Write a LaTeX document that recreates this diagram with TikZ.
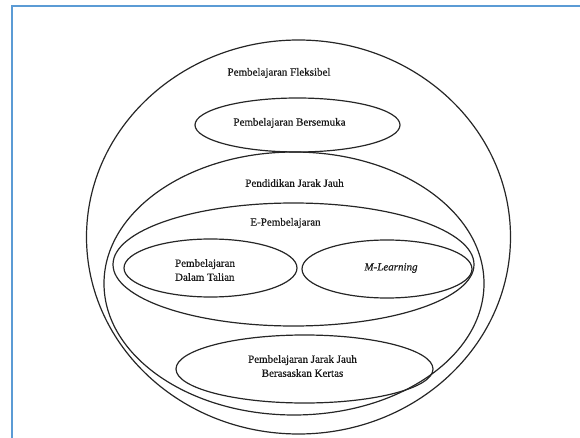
\documentclass[tikz,border=0pt]{standalone}
\usepackage{fontspec}
\setmainfont{Liberation Serif}
\newfontface\labelface{Liberation Serif}[FakeBold=0.5]
\newfontface\labelit{Liberation Serif Italic}[FakeBold=0.5]
\begin{document}
\begin{tikzpicture}[x=1pt,y=-1pt,
  ring/.style={draw=black!85,line width=1.2pt},
  lbl/.style={font=\fontsize{11}{14}\labelface,text=black!90,inner sep=0pt,align=center},
  frame/.style={draw={rgb,255:red,91;green,155;blue,213},line width=2pt}]
\useasboundingbox (0,0) rectangle (580,438);
% blue frame (top and left sides)
\draw[frame] (11.5,438) -- (11.5,6.5) -- (580,6.5);
% nested sets
\draw[ring] (298.5,237) ellipse [x radius=212pt, y radius=197pt];
\draw[ring] (297.5,125) ellipse [x radius=102.5pt, y radius=27pt];
\draw[ring] (294,283.5) ellipse [x radius=190pt, y radius=131.5pt];
\draw[ring] (293.5,264.5) ellipse [x radius=180.5pt, y radius=61.5pt];
\draw[ring] (210.5,268) ellipse [x radius=86.5pt, y radius=29pt];
\draw[ring] (387,269) ellipse [x radius=85pt, y radius=29pt];
\draw[ring] (304.5,369) ellipse [x radius=128.5pt, y radius=34pt];
% labels
\node[lbl] (fleks) at (279,73) {Pembelajaran Fleksibel};
\node[lbl] (semuka) at (289.5,123) {Pembelajaran Bersemuka};
\node[lbl] (pjj) at (294.5,183) {Pendidikan Jarak Jauh};
\node[lbl] (epemb) at (285.5,223) {E-Pembelajaran};
\node[lbl,align=left] (talian) at (205,270) {Pembelajaran\\Dalam Talian};
\node[lbl,font=\fontsize{11}{14}\labelit] (mlearn) at (391,268) {M-Learning};
\node[lbl] (kertas) at (302.5,366) {Pembelajaran Jarak Jauh\\Berasaskan Kertas};
\end{tikzpicture}
\end{document}
